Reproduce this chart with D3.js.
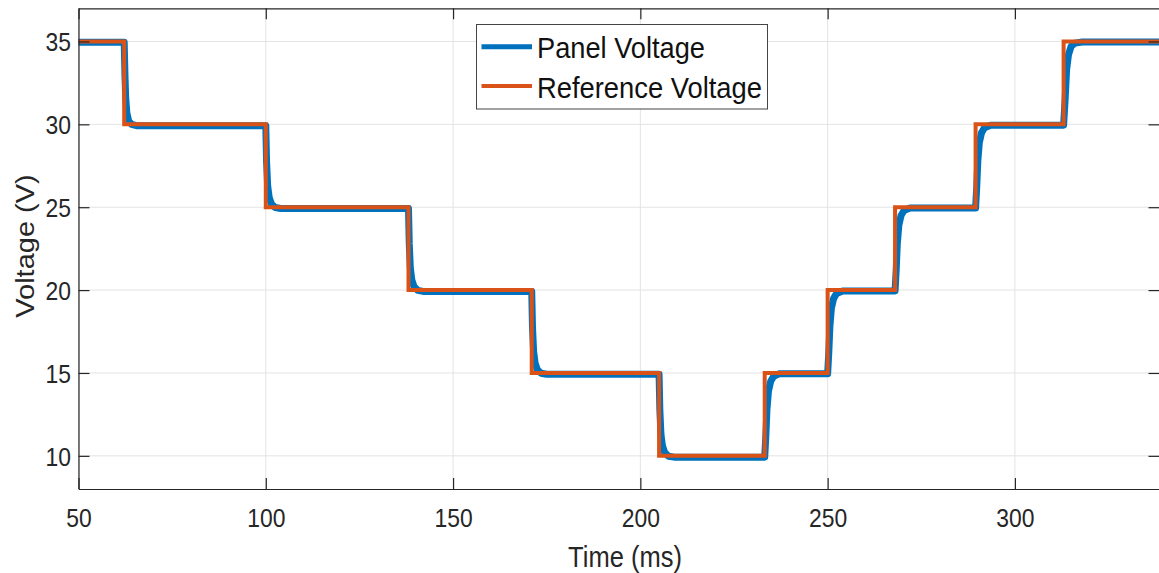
<!DOCTYPE html>
<html>
<head>
<meta charset="utf-8">
<script src="https://cdn.jsdelivr.net/npm/d3@7"></script>
<style>
  html, body { margin: 0; padding: 0; background: #fff; }
  svg { display: block; }
  text { font-family: "Liberation Sans", Arial, Helvetica, sans-serif; fill: #262626; }
</style>
</head>
<body>
<svg id="chart" width="1159" height="573"></svg>
<script>
// ---- data ----
const xTicks = [50, 100, 150, 200, 250, 300];
const yTicks = [10, 15, 20, 25, 30, 35];
const xDomain = [50, 338.6];
const yDomain = [8, 37];

// reference voltage: step times (ms) and levels (V)
const refTimes  = [50, 62.2, 100, 138.1, 171, 205, 233.2, 250, 268, 289.5, 313, 338.6];
const refLevels = [35, 30, 25, 20, 15, 10, 15, 20, 25, 30, 35, 35];

const panelTime = [
  50, 62.2, 62.4, 62.6, 62.9, 63.4, 64.2, 65.5,
  100.0, 100.2, 100.5, 100.9, 101.5, 102.5, 104,
  138.1, 138.3, 138.6, 139.0, 139.6, 140.6, 142,
  171.0, 171.2, 171.5, 171.9, 172.5, 173.5, 175,
  205.0, 205.2, 205.5, 205.9, 206.5, 207.5, 209,
  233.2, 233.5, 233.8, 234.2, 234.8, 235.6, 237,
  250.0, 250.3, 250.6, 251.0, 251.6, 252.4, 254,
  268.0, 268.3, 268.6, 269.0, 269.6, 270.4, 272,
  289.5, 289.8, 290.1, 290.5, 291.1, 291.9, 293.5,
  313.0, 313.4, 313.8, 314.3, 315.0, 316.0, 318, 338.6
];
const panelVolt = [
  34.95, 34.95, 33.0, 31.6, 30.7, 30.2, 30.0, 29.92,
  29.92, 27.8, 26.3, 25.6, 25.2, 24.98, 24.92,
  24.92, 22.8, 21.3, 20.6, 20.2, 19.98, 19.92,
  19.92, 17.8, 16.3, 15.6, 15.2, 14.98, 14.92,
  14.92, 12.8, 11.3, 10.6, 10.2, 9.98, 9.92,
  9.92, 11.2, 12.8, 13.9, 14.5, 14.8, 14.95,
  14.95, 16.2, 17.8, 18.9, 19.5, 19.8, 19.95,
  19.95, 21.2, 22.8, 23.9, 24.5, 24.8, 24.95,
  24.95, 26.2, 27.8, 28.9, 29.5, 29.8, 29.95,
  29.95, 31.5, 33.3, 34.2, 34.7, 34.9, 34.97, 34.97
];

const seriesNames = ["Panel Voltage", "Reference Voltage"];
const seriesColors = ["#0072BD", "#D95319"];

// ---- layout ----
const L = 78.5, R = 1159.5, T = 8.3, B = 489;
const SX = 0.88; // horizontal squeeze of the glyphs

const svg = d3.select("#chart");
const x = d3.scaleLinear().domain(xDomain).range([L, R]);
const y = d3.scaleLinear().domain(yDomain).range([B, T]);

// grid
const grid = svg.append("g");
grid.selectAll(".gx").data(xTicks).join("line")
  .attr("x1", d => x(d)).attr("x2", d => x(d)).attr("y1", T).attr("y2", B)
  .attr("stroke", "#e3e3e3").attr("stroke-width", 1);
grid.selectAll(".gy").data(yTicks).join("line")
  .attr("x1", L).attr("x2", R).attr("y1", d => y(d)).attr("y2", d => y(d))
  .attr("stroke", "#e3e3e3").attr("stroke-width", 1);

// clip
svg.append("clipPath").attr("id", "clip").append("rect")
  .attr("x", L).attr("y", T).attr("width", R - L).attr("height", B - T);

const plot = svg.append("g").attr("clip-path", "url(#clip)");

const panelData = panelTime.map((t, i) => [t, panelVolt[i]]);
const refData = refTimes.map((t, i) => [t, refLevels[i]]);

plot.append("path").datum(panelData)
  .attr("fill", "none").attr("stroke", seriesColors[0]).attr("stroke-width", 7)
  .attr("stroke-linejoin", "round").attr("stroke-linecap", "round")
  .attr("d", d3.line().x(d => x(d[0])).y(d => y(d[1])));

plot.append("path").datum(refData)
  .attr("fill", "none").attr("stroke", seriesColors[1]).attr("stroke-width", 4)
  .attr("stroke-linejoin", "miter")
  .attr("d", d3.line().x(d => x(d[0])).y(d => y(d[1])).curve(d3.curveStepAfter));

// axes
const axisColor = "#262626";
const tickLen = 11;

const xAxis = svg.append("g").attr("transform", `translate(0,${B})`)
  .call(d3.axisBottom(x).tickValues(xTicks).tickSizeInner(-tickLen).tickSizeOuter(0).tickPadding(0).tickFormat(d3.format("d")));
xAxis.selectAll("text").attr("y", 38).attr("dy", 0).attr("font-size", 26)
  .attr("transform", `scale(${SX},1)`).style("fill", axisColor);

const yAxis = svg.append("g").attr("transform", `translate(${L},0)`)
  .call(d3.axisLeft(y).tickValues(yTicks).tickSizeInner(-tickLen).tickSizeOuter(0).tickPadding(0).tickFormat(d3.format("d")));
yAxis.selectAll("text").attr("x", -7.5 / SX).attr("dy", "0.36em").attr("font-size", 26)
  .attr("transform", `scale(${SX},1)`).style("fill", axisColor);

const topAxis = svg.append("g").attr("transform", `translate(0,${T})`)
  .call(d3.axisTop(x).tickValues(xTicks).tickSizeInner(-tickLen).tickSizeOuter(0).tickFormat(""));
const rightAxis = svg.append("g").attr("transform", `translate(${R},0)`)
  .call(d3.axisRight(y).tickValues(yTicks).tickSizeInner(-tickLen).tickSizeOuter(0).tickFormat(""));

[xAxis, yAxis, topAxis, rightAxis].forEach(a => {
  a.select(".domain").attr("stroke", axisColor).attr("stroke-width", 1.2);
  a.selectAll(".tick line").attr("stroke", axisColor).attr("stroke-width", 1.2);
  a.attr("font-family", null);
});

// axis labels
svg.append("text")
  .attr("transform", `translate(${(L + R) / 2 + 6},567) scale(${SX},1)`)
  .attr("text-anchor", "middle").attr("font-size", 29)
  .text("Time (ms)");

svg.append("text")
  .attr("transform", `translate(34,246) rotate(-90) scale(1,${SX})`)
  .attr("text-anchor", "middle").attr("font-size", 29)
  .text("Voltage (V)");

// legend
const lg = svg.append("g");
lg.append("rect").attr("x", 476.5).attr("y", 24.5).attr("width", 291).attr("height", 84.5)
  .attr("fill", "#fff").attr("stroke", "#444").attr("stroke-width", 1);
const legendRows = [
  { name: seriesNames[0], color: seriesColors[0], ly: 46.7, ty: 58.3, w: 168, sw: 5 },
  { name: seriesNames[1], color: seriesColors[1], ly: 86, ty: 98.3, w: 225, sw: 4 }
];
legendRows.forEach(r => {
  lg.append("line").attr("x1", 481.5).attr("x2", 532).attr("y1", r.ly).attr("y2", r.ly)
    .attr("stroke", r.color).attr("stroke-width", r.sw);
  lg.append("text").attr("x", 537).attr("y", r.ty).attr("font-size", 29)
    .attr("textLength", r.w).attr("lengthAdjust", "spacingAndGlyphs")
    .style("fill", "#111").text(r.name);
});
</script>
</body>
</html>
